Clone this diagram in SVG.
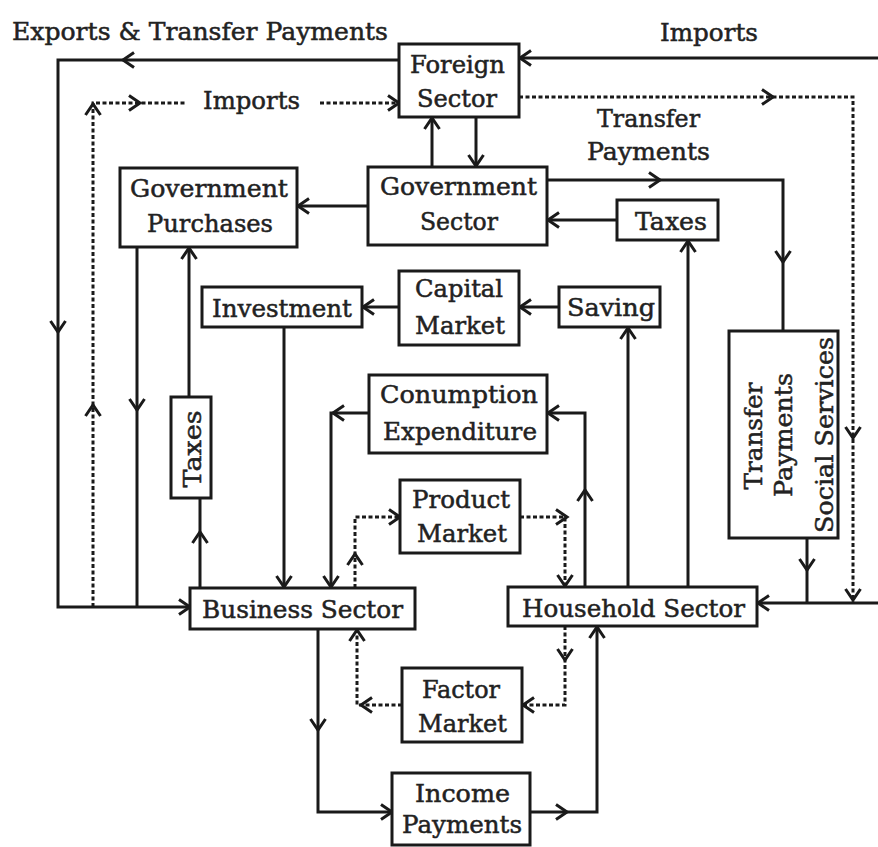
<svg xmlns="http://www.w3.org/2000/svg" xmlns:xlink="http://www.w3.org/1999/xlink" width="878" height="847" viewBox="0 0 878 847">
<style>
.box{fill:#fff;stroke:#1a1a1a;stroke-width:3}
.ln{fill:none;stroke:#1a1a1a;stroke-width:3}
.dt{fill:none;stroke:#1a1a1a;stroke-width:3;stroke-dasharray:4 2.5}
text{font-family:"DejaVu Serif","Liberation Serif",serif;font-size:24px;fill:#222;stroke:#222;stroke-width:0.5}
</style>
<defs>
<path id="ah" d="M-11,-7.5 L0,0 L-11,7.5" fill="none" stroke="#1a1a1a" stroke-width="3"/>
</defs>
<rect width="878" height="847" fill="#fff"/>

<g id="connectors">
<path class="ln" d="M399,60 H58 V607 H190"/>
<use xlink:href="#ah" transform="translate(123,60) rotate(180)"/>
<use xlink:href="#ah" transform="translate(58,332) rotate(90)"/>
<use xlink:href="#ah" transform="translate(190,607)"/>
<path class="dt" d="M93,607 V103 H185"/>
<path class="dt" d="M320,103 H399"/>
<use xlink:href="#ah" transform="translate(93,104) rotate(-90)"/>
<use xlink:href="#ah" transform="translate(93,405) rotate(-90)"/>
<use xlink:href="#ah" transform="translate(140,103)"/>
<use xlink:href="#ah" transform="translate(399,103)"/>
<path class="ln" d="M878,58 H519"/>
<use xlink:href="#ah" transform="translate(520,58) rotate(180)"/>
<path class="dt" d="M519,97 H853 V603"/>
<use xlink:href="#ah" transform="translate(773,97)"/>
<use xlink:href="#ah" transform="translate(853,438) rotate(90)"/>
<use xlink:href="#ah" transform="translate(853,600) rotate(90)"/>
<path class="ln" d="M432,167 V117"/>
<use xlink:href="#ah" transform="translate(432,118) rotate(-90)"/>
<path class="ln" d="M476,117 V167"/>
<use xlink:href="#ah" transform="translate(476,166) rotate(90)"/>
<path class="ln" d="M368,206 H297"/>
<use xlink:href="#ah" transform="translate(298,206) rotate(180)"/>
<path class="ln" d="M547,180 H783 V331"/>
<use xlink:href="#ah" transform="translate(660,180)"/>
<use xlink:href="#ah" transform="translate(783,262) rotate(90)"/>
<path class="ln" d="M617,220 H547"/>
<use xlink:href="#ah" transform="translate(548,220) rotate(180)"/>
<path class="ln" d="M688,587 V240"/>
<use xlink:href="#ah" transform="translate(688,241) rotate(-90)"/>
<path class="ln" d="M137,247 V607"/>
<use xlink:href="#ah" transform="translate(137,410) rotate(90)"/>
<path class="ln" d="M200,588 V498"/>
<use xlink:href="#ah" transform="translate(200,532) rotate(-90)"/>
<path class="ln" d="M189,397 V247"/>
<use xlink:href="#ah" transform="translate(189,248) rotate(-90)"/>
<path class="ln" d="M399,307 H362"/>
<use xlink:href="#ah" transform="translate(363,307) rotate(180)"/>
<path class="ln" d="M559,307 H519"/>
<use xlink:href="#ah" transform="translate(520,307) rotate(180)"/>
<path class="ln" d="M628,587 V327"/>
<use xlink:href="#ah" transform="translate(628,328) rotate(-90)"/>
<path class="ln" d="M284,327 V588"/>
<use xlink:href="#ah" transform="translate(284,587) rotate(90)"/>
<path class="ln" d="M369,413 H331 V588"/>
<use xlink:href="#ah" transform="translate(333,413) rotate(180)"/>
<use xlink:href="#ah" transform="translate(331,587) rotate(90)"/>
<path class="ln" d="M585,587 V413 H547"/>
<use xlink:href="#ah" transform="translate(585,490) rotate(-90)"/>
<use xlink:href="#ah" transform="translate(548,413) rotate(180)"/>
<path class="dt" d="M355,588 V517 H400"/>
<use xlink:href="#ah" transform="translate(355,554) rotate(-90)"/>
<use xlink:href="#ah" transform="translate(400,517)"/>
<path class="dt" d="M520,517 H565 V587"/>
<use xlink:href="#ah" transform="translate(567,517)"/>
<use xlink:href="#ah" transform="translate(565,586) rotate(90)"/>
<path class="ln" d="M318,629 V812 H392"/>
<use xlink:href="#ah" transform="translate(318,730) rotate(90)"/>
<use xlink:href="#ah" transform="translate(392,812)"/>
<path class="ln" d="M530,812 H597 V626"/>
<use xlink:href="#ah" transform="translate(567,812)"/>
<use xlink:href="#ah" transform="translate(597,627) rotate(-90)"/>
<path class="dt" d="M565,626 V705 H522"/>
<use xlink:href="#ah" transform="translate(565,660) rotate(90)"/>
<use xlink:href="#ah" transform="translate(523,705) rotate(180)"/>
<path class="dt" d="M402,705 H357 V629"/>
<use xlink:href="#ah" transform="translate(361,705) rotate(180)"/>
<use xlink:href="#ah" transform="translate(357,630) rotate(-90)"/>
<path class="ln" d="M807,538 V603"/>
<use xlink:href="#ah" transform="translate(807,570) rotate(90)"/>
<path class="ln" d="M878,603 H757"/>
<use xlink:href="#ah" transform="translate(758,603) rotate(180)"/>
</g>

<g id="labels">
<text x="12" y="40" textLength="376" lengthAdjust="spacingAndGlyphs">Exports &amp; Transfer Payments</text>
<text x="660" y="41" textLength="98" lengthAdjust="spacingAndGlyphs">Imports</text>
<text x="203" y="109" textLength="97" lengthAdjust="spacingAndGlyphs">Imports</text>
<text x="597" y="127" textLength="103" lengthAdjust="spacingAndGlyphs">Transfer</text>
<text x="587" y="160" textLength="123" lengthAdjust="spacingAndGlyphs">Payments</text>
</g>

<g id="foreign-sector">
<rect class="box" x="399" y="44" width="120" height="73"/>
<text x="410" y="73" textLength="95" lengthAdjust="spacingAndGlyphs">Foreign</text>
<text x="417" y="107" textLength="80" lengthAdjust="spacingAndGlyphs">Sector</text>
</g>

<g id="government-purchases">
<rect class="box" x="120" y="168" width="177" height="79"/>
<text x="130" y="197" textLength="158" lengthAdjust="spacingAndGlyphs">Government</text>
<text x="147" y="232" textLength="126" lengthAdjust="spacingAndGlyphs">Purchases</text>
</g>

<g id="government-sector">
<rect class="box" x="368" y="167" width="179" height="78"/>
<text x="380" y="195" textLength="157" lengthAdjust="spacingAndGlyphs">Government</text>
<text x="420" y="230" textLength="78" lengthAdjust="spacingAndGlyphs">Sector</text>
</g>

<g id="taxes-gov">
<rect class="box" x="617" y="200" width="101" height="40"/>
<text x="635" y="230" textLength="72" lengthAdjust="spacingAndGlyphs">Taxes</text>
</g>

<g id="investment">
<rect class="box" x="202" y="287" width="160" height="40"/>
<text x="212" y="317" textLength="140" lengthAdjust="spacingAndGlyphs">Investment</text>
</g>

<g id="capital-market">
<rect class="box" x="399" y="271" width="120" height="74"/>
<text x="415" y="297" textLength="88" lengthAdjust="spacingAndGlyphs">Capital</text>
<text x="415" y="334" textLength="90" lengthAdjust="spacingAndGlyphs">Market</text>
</g>

<g id="saving">
<rect class="box" x="559" y="287" width="101" height="40"/>
<text x="567" y="316" textLength="88" lengthAdjust="spacingAndGlyphs">Saving</text>
</g>

<g id="consumption-expenditure">
<rect class="box" x="369" y="375" width="178" height="78"/>
<text x="380" y="403" textLength="158" lengthAdjust="spacingAndGlyphs">Conumption</text>
<text x="383" y="440" textLength="154" lengthAdjust="spacingAndGlyphs">Expenditure</text>
</g>

<g id="product-market">
<rect class="box" x="400" y="480" width="120" height="73"/>
<text x="412" y="508" textLength="98" lengthAdjust="spacingAndGlyphs">Product</text>
<text x="417" y="542" textLength="90" lengthAdjust="spacingAndGlyphs">Market</text>
</g>

<g id="taxes-business">
<rect class="box" x="171" y="397" width="40" height="101"/>
<text transform="translate(201,449) rotate(-90)" text-anchor="middle" textLength="77" lengthAdjust="spacingAndGlyphs">Taxes</text>
</g>

<g id="transfer-payments-social-services">
<rect class="box" x="729" y="331" width="109" height="207"/>
<text transform="translate(762,436) rotate(-90)" text-anchor="middle" textLength="107" lengthAdjust="spacingAndGlyphs">Transfer</text>
<text transform="translate(792,435) rotate(-90)" text-anchor="middle" textLength="124" lengthAdjust="spacingAndGlyphs">Payments</text>
<text transform="translate(833,435) rotate(-90)" text-anchor="middle" textLength="196" lengthAdjust="spacingAndGlyphs">Social Services</text>
</g>

<g id="business-sector">
<rect class="box" x="190" y="588" width="225" height="41"/>
<text x="202" y="618" textLength="201" lengthAdjust="spacingAndGlyphs">Business Sector</text>
</g>

<g id="household-sector">
<rect class="box" x="508" y="587" width="249" height="39"/>
<text x="522" y="617" textLength="223" lengthAdjust="spacingAndGlyphs">Household Sector</text>
</g>

<g id="factor-market">
<rect class="box" x="402" y="668" width="120" height="74"/>
<text x="422" y="698" textLength="78" lengthAdjust="spacingAndGlyphs">Factor</text>
<text x="418" y="732" textLength="89" lengthAdjust="spacingAndGlyphs">Market</text>
</g>

<g id="income-payments">
<rect class="box" x="392" y="773" width="138" height="72"/>
<text x="415" y="802" textLength="95" lengthAdjust="spacingAndGlyphs">Income</text>
<text x="402" y="833" textLength="120" lengthAdjust="spacingAndGlyphs">Payments</text>
</g>
</svg>
